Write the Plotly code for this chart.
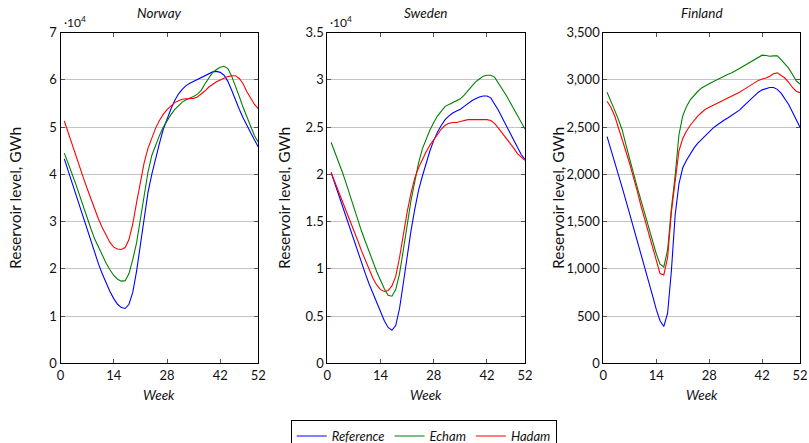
import plotly.graph_objects as go

weeks = list(range(1, 53))

# Norway (x10^4 GWh)
norway_reference = [4.33, 4.08, 3.82, 3.56, 3.30, 3.05, 2.80, 2.56, 2.33, 2.10, 1.89, 1.70, 1.52, 1.37, 1.25, 1.18, 1.16, 1.25, 1.50, 1.95,
                    2.50, 3.10, 3.62, 4.00, 4.35, 4.65, 4.95, 5.18, 5.38, 5.56, 5.70, 5.80, 5.88, 5.93, 5.97, 6.01, 6.05, 6.10, 6.14, 6.17,
                    6.18, 6.16, 6.10, 5.97, 5.78, 5.56, 5.38, 5.20, 5.03, 4.88, 4.73, 4.58]
norway_echam = [4.45, 4.25, 4.02, 3.80, 3.55, 3.30, 3.07, 2.85, 2.63, 2.45, 2.28, 2.12, 1.98, 1.86, 1.78, 1.74, 1.75, 1.90, 2.20, 2.55,
                3.05, 3.60, 4.05, 4.40, 4.62, 4.82, 5.00, 5.14, 5.26, 5.37, 5.46, 5.53, 5.58, 5.61, 5.65, 5.70, 5.78, 5.92, 6.05, 6.16,
                6.22, 6.27, 6.29, 6.24, 6.08, 5.88, 5.65, 5.42, 5.22, 5.00, 4.82, 4.68]
norway_hadam = [5.13, 4.88, 4.64, 4.40, 4.17, 3.93, 3.70, 3.47, 3.25, 3.05, 2.87, 2.70, 2.56, 2.46, 2.42, 2.41, 2.45, 2.62, 2.95, 3.40,
                3.85, 4.25, 4.55, 4.78, 4.98, 5.14, 5.27, 5.37, 5.45, 5.52, 5.56, 5.59, 5.60, 5.60, 5.61, 5.64, 5.70, 5.77, 5.85, 5.91,
                5.96, 6.00, 6.04, 6.07, 6.09, 6.09, 6.03, 5.92, 5.75, 5.60, 5.48, 5.39]

# Sweden (x10^4 GWh)
sweden_reference = [2.02, 1.90, 1.77, 1.65, 1.53, 1.41, 1.29, 1.18, 1.06, 0.95, 0.84, 0.74, 0.64, 0.54, 0.45, 0.38, 0.35, 0.40, 0.58, 0.85,
                    1.13, 1.40, 1.63, 1.83, 1.98, 2.12, 2.25, 2.36, 2.45, 2.52, 2.58, 2.62, 2.65, 2.67, 2.69, 2.72, 2.75, 2.78, 2.80, 2.82,
                    2.83, 2.83, 2.81, 2.75, 2.68, 2.60, 2.52, 2.44, 2.36, 2.28, 2.21, 2.16]
sweden_echam = [2.34, 2.24, 2.13, 2.02, 1.90, 1.77, 1.64, 1.52, 1.40, 1.29, 1.18, 1.07, 0.97, 0.88, 0.79, 0.72, 0.71, 0.78, 0.95, 1.20,
                1.48, 1.72, 1.92, 2.12, 2.27, 2.38, 2.47, 2.55, 2.62, 2.67, 2.72, 2.74, 2.76, 2.78, 2.80, 2.84, 2.89, 2.94, 2.98, 3.01,
                3.04, 3.05, 3.05, 3.03, 2.97, 2.91, 2.84, 2.77, 2.70, 2.63, 2.55, 2.48]
sweden_hadam = [2.02, 1.92, 1.82, 1.71, 1.60, 1.50, 1.40, 1.30, 1.19, 1.09, 0.99, 0.90, 0.83, 0.78, 0.76, 0.77, 0.82, 0.92, 1.12, 1.37,
                1.60, 1.80, 1.96, 2.07, 2.16, 2.24, 2.31, 2.37, 2.43, 2.48, 2.52, 2.54, 2.55, 2.55, 2.56, 2.57, 2.58, 2.58, 2.58, 2.58,
                2.58, 2.58, 2.57, 2.54, 2.49, 2.44, 2.38, 2.33, 2.28, 2.22, 2.18, 2.15]

# Finland (GWh)
finland_reference = [2400, 2270, 2130, 1990, 1860, 1720, 1580, 1440, 1300, 1160, 1020, 870, 720, 570, 450, 390, 530, 980, 1570, 1900,
                     2070, 2150, 2220, 2280, 2330, 2370, 2415, 2455, 2490, 2520, 2550, 2575, 2600, 2625, 2650, 2680, 2720, 2760, 2800, 2840,
                     2870, 2895, 2910, 2920, 2920, 2900, 2860, 2800, 2740, 2660, 2580, 2500]
finland_echam = [2870, 2780, 2680, 2580, 2470, 2310, 2150, 2010, 1860, 1720, 1580, 1440, 1300, 1160, 1050, 1020, 1200, 1640, 1990, 2420,
                 2620, 2720, 2790, 2840, 2880, 2915, 2940, 2960, 2980, 3000, 3025, 3045, 3060, 3075, 3095, 3120, 3145, 3170, 3195, 3215,
                 3240, 3262, 3258, 3250, 3255, 3255, 3215, 3168, 3125, 3060, 2990, 2957]
finland_hadam = [2775, 2710, 2620, 2500, 2370, 2240, 2110, 1970, 1820, 1660, 1520, 1380, 1240, 1090, 950, 935, 1120, 1600, 1960, 2250,
                 2380, 2460, 2520, 2570, 2620, 2655, 2690, 2710, 2730, 2745, 2770, 2790, 2810, 2825, 2845, 2870, 2895, 2920, 2950, 2975,
                 2995, 3010, 3020, 3040, 3065, 3075, 3050, 3020, 2975, 2920, 2880, 2865]

series_names = ["Reference", "Echam", "Hadam"]
series_colors = ["#0000ff", "#008000", "#ff0000"]
panel_titles = ["Norway", "Sweden", "Finland"]
x_ticks = [0, 14, 28, 42, 52]
norway_ticks = [0, 1, 2, 3, 4, 5, 6, 7]
sweden_ticks = [0, 0.5, 1, 1.5, 2, 2.5, 3, 3.5]
finland_ticks = [0, 500, 1000, 1500, 2000, 2500, 3000, 3500]

panels = [
    (norway_reference, norway_echam, norway_hadam, [0, 7], norway_ticks, None),
    (sweden_reference, sweden_echam, sweden_hadam, [0, 3.5], sweden_ticks, None),
    (finland_reference, finland_echam, finland_hadam, [0, 3500], finland_ticks, ","),
]

W, H = 809, 443
x_px = [(60.5, 258.3), (327.3, 525.0), (603.3, 800.0)]
y_top, y_bot = 32.7, 363.3
ydom = [1 - y_bot / H, 1 - y_top / H]

FONT = "Lato, 'Open Sans', DejaVu Sans, sans-serif"

fig = go.Figure()
layout = dict(
    width=W, height=H,
    margin=dict(l=0, r=0, t=0, b=0, autoexpand=False),
    paper_bgcolor="white", plot_bgcolor="white",
    font=dict(family=FONT, size=13, color="#111111"),
    showlegend=True,
    legend=dict(orientation="h", x=423.7 / W, xanchor="center", y=1 - 420 / H, yanchor="top",
                bordercolor="#000000", borderwidth=1, bgcolor="white",
                font=dict(family=FONT, size=13, style="italic"),
                itemwidth=30, tracegroupgap=0, traceorder="normal"),
    annotations=[],
)

for i, (ref, ech, had, yr, yt, fmt) in enumerate(panels):
    sx = "" if i == 0 else str(i + 1)
    for vals, name, col in zip((ref, ech, had), series_names, series_colors):
        fig.add_trace(go.Scatter(x=weeks, y=vals, mode="lines", name=name,
                                 line=dict(color=col, width=1.1),
                                 xaxis="x" + sx, yaxis="y" + sx,
                                 showlegend=(i == 0)))
    x0, x1 = x_px[i]
    layout["xaxis" + sx] = dict(
        domain=[x0 / W, x1 / W], range=[0, 52], anchor="y" + sx, automargin=False,
        tickvals=x_ticks, ticks="inside", ticklen=4, tickcolor="#555555",
        showline=True, linecolor="#000000", linewidth=1, mirror="ticks",
        showgrid=False, zeroline=False, tickfont=dict(size=13),
    )
    ya = dict(
        domain=ydom, range=yr, anchor="x" + sx, automargin=False,
        tickvals=yt, ticks="inside", ticklen=4, tickcolor="#555555",
        showline=True, linecolor="#000000", linewidth=1, mirror="ticks",
        showgrid=True, gridcolor="#c4c4c4", gridwidth=1, zeroline=False,
        tickfont=dict(size=13),
    )
    if fmt:
        ya["tickformat"] = fmt
    layout["yaxis" + sx] = ya
    cx = (x0 + x1) / 2 / W
    layout["annotations"].append(dict(text=panel_titles[i], x=cx, y=1 - 13 / H, xref="paper", yref="paper",
                                      xanchor="center", yanchor="middle",
                                      showarrow=False, font=dict(size=13.5, style="italic")))
    layout["annotations"].append(dict(text="Week", x=cx, y=1 - 395 / H, xref="paper", yref="paper",
                                      xanchor="center", yanchor="middle",
                                      showarrow=False, font=dict(size=13.5, style="italic")))
    ylab_x = [15, 284, 558][i]
    layout["annotations"].append(dict(text="Reservoir level, GWh", x=ylab_x / W, y=(ydom[0] + ydom[1]) / 2,
                                      xref="paper", yref="paper", textangle=-90, showarrow=False,
                                      xanchor="center", yanchor="middle",
                                      font=dict(size=15.5)))
    if i < 2:
        layout["annotations"].append(dict(text="·10<sup>4</sup>", x=(x0 + 1) / W, y=1 - 22 / H, xref="paper",
                                          yref="paper", xanchor="left", yanchor="middle",
                                          showarrow=False, font=dict(size=12)))

fig.update_layout(**layout)
fig.write_html("out.html", config={"displayModeBar": False},
               post_script="document.body.style.margin='0';document.body.style.overflow='hidden';")
